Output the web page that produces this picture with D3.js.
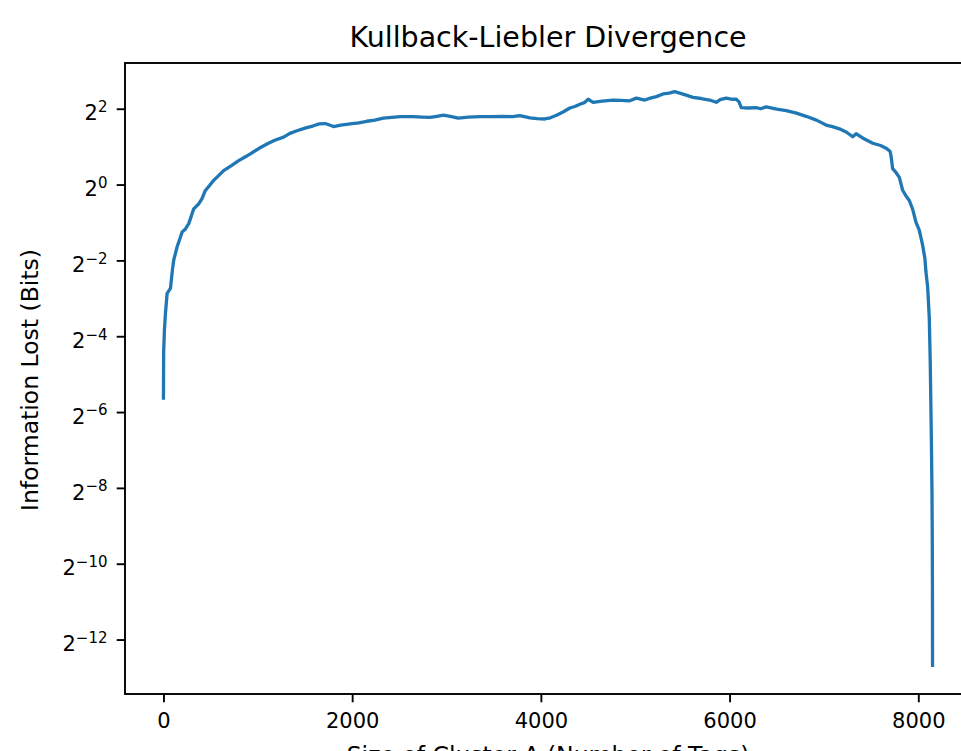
<!DOCTYPE html>
<html>
<head>
<meta charset="utf-8">
<script src="https://cdn.jsdelivr.net/npm/d3@7"></script>
<style>
  body { margin: 0; background: #fff; overflow: hidden; }
  text { font-family: "DejaVu Sans", sans-serif; fill: #000; }
</style>
</head>
<body>
<div id="vis"></div>
<script>
// Tamanho do cluster A (eixo x)
const clusterSize = [
  0, 2, 10, 21, 39, 74, 95, 109, 145, 198, 230, 268, 321, 370, 409, 444, 490, 532, 590, 638,
  720, 797, 860, 921, 1010, 1097, 1180, 1273, 1340, 1415, 1500, 1590, 1650, 1714, 1760, 1802, 1880, 1979, 2070, 2155,
  2240, 2331, 2420, 2508, 2649, 2740, 2825, 2900, 2966, 3040, 3125, 3230, 3354, 3480, 3601, 3700, 3778, 3884, 3960, 4042,
  4100, 4166, 4240, 4307, 4360, 4413, 4460, 4501, 4554, 4650, 4765, 4850, 4942, 5012, 5101, 5160, 5224, 5295, 5360, 5418,
  5471, 5540, 5612, 5700, 5788, 5859, 5900, 5965, 6030, 6071, 6100, 6124, 6200, 6282, 6330, 6388, 6500, 6600, 6700, 6811,
  6920, 7023, 7090, 7164, 7240, 7305, 7341, 7430, 7517, 7600, 7658, 7700, 7711, 7728, 7760, 7799, 7834, 7870, 7905, 7940,
  7975, 8010, 8046, 8070, 8081, 8099, 8116, 8126, 8134, 8140, 8145, 8148, 8150, 8151
];

// Informação perdida em bits (KL)
const infoLost = [
  0.0202, 0.0458, 0.0694, 0.0947, 0.1368, 0.1497, 0.2102, 0.2517, 0.3209, 0.4204, 0.4414, 0.4897, 0.6417, 0.6974, 0.7738, 0.8981, 0.9862, 1.0792, 1.1892, 1.2924,
  1.4142, 1.5476, 1.6472, 1.7532, 1.9319, 2.0994, 2.2501, 2.3784, 2.5491, 2.6759, 2.8089, 2.9282, 3.0314, 3.0525, 2.9690, 2.8879, 2.9690, 3.0314, 3.0951, 3.1821,
  3.2490, 3.3636, 3.4105, 3.4582, 3.4582, 3.4343, 3.4105, 3.4822, 3.5550, 3.4822, 3.3636, 3.4343, 3.4582, 3.4582, 3.4822, 3.4582, 3.5308, 3.3870, 3.3404, 3.3173,
  3.3870, 3.5550, 3.7842, 4.0558, 4.1699, 4.3469, 4.4691, 4.7568, 4.5002, 4.5948, 4.6913, 4.6589, 4.6268, 4.8568, 4.6913, 4.8568, 4.9933, 5.2416, 5.3147, 5.4642,
  5.3147, 5.1337, 4.9246, 4.8233, 4.6913, 4.5002, 4.7240, 4.8568, 4.7568, 4.7568, 4.5315, 4.0840, 4.0558, 4.0840, 4.0000, 4.1411, 3.9724, 3.8637, 3.7064, 3.4822,
  3.2490, 2.9690, 2.8879, 2.7702, 2.6027, 2.3950, 2.5316, 2.2974, 2.1287, 2.0420, 1.9453, 1.8404, 1.6935, 1.3379, 1.2570, 1.1408, 0.9013, 0.8123, 0.7474, 0.6373,
  0.5035, 0.4353, 0.3299, 0.2588, 0.2031, 0.1539, 0.0890, 0.0412, 0.0163, 0.0078, 0.00357, 0.001586, 0.000581, 0.0001524
];

const xTicks = [0, 2000, 4000, 6000, 8000];
const yTickExps = [2, 0, -2, -4, -6, -8, -10, -12];

const titleText = "Kullback-Liebler Divergence";
const xLabelText = "Size of Cluster A (Number of Tags)";
const yLabelText = "Information Lost (Bits)";

// Área dos eixos (a borda direita fica fora da janela)
const W = 961, H = 751;
const plot = { left: 125, right: 971, top: 63, bottom: 694 };

const dataset = clusterSize.map((c, i) => ({ x: c, y: infoLost[i] }));

const svg = d3.select("#vis").append("svg")
  .attr("width", W)
  .attr("height", H);

// margens de 5% como no matplotlib
const xExt = d3.extent(clusterSize);
const xPad = (xExt[1] - xExt[0]) * 0.05;
const x = d3.scaleLinear()
  .domain([xExt[0] - xPad, xExt[1] + xPad])
  .range([plot.left, plot.right]);

const lExt = d3.extent(infoLost).map(Math.log2);
const lPad = (lExt[1] - lExt[0]) * 0.05;
const y = d3.scaleLog().base(2)
  .domain([Math.pow(2, lExt[0] - lPad), Math.pow(2, lExt[1] + lPad)])
  .range([plot.bottom, plot.top]);

// linha
svg.append("path")
  .datum(dataset)
  .attr("fill", "none")
  .attr("stroke", "#1f77b4")
  .attr("stroke-width", 3.3)
  .attr("stroke-linejoin", "round")
  .attr("stroke-linecap", "square")
  .attr("d", d3.line().x(d => x(d.x)).y(d => y(d.y)));

// eixo x
const xAxis = svg.append("g")
  .attr("transform", `translate(0, ${plot.bottom})`)
  .call(d3.axisBottom(x).tickValues(xTicks).tickSize(8.3).tickPadding(10).tickFormat(d3.format("d")));
xAxis.select(".domain").remove();
xAxis.selectAll(".tick line").attr("stroke", "#000").attr("stroke-width", 1.9);
xAxis.selectAll(".tick text")
  .attr("font-size", 21)
  .attr("font-family", "DejaVu Sans")
  .attr("fill", "#000")
  .attr("dy", null)
  .attr("y", 34);

// eixo y (log base 2)
const yAxis = svg.append("g")
  .attr("transform", `translate(${plot.left}, 0)`)
  .call(d3.axisLeft(y).tickValues(yTickExps.map(e => Math.pow(2, e))).tickSize(8.3).tickFormat(""));
yAxis.select(".domain").remove();
yAxis.selectAll(".tick line").attr("stroke", "#000").attr("stroke-width", 1.9);

const yLab = svg.append("g").selectAll("text")
  .data(yTickExps)
  .join("text")
  .attr("x", plot.left - 17.5)
  .attr("y", e => y(Math.pow(2, e)) + 11.7)
  .attr("text-anchor", "end")
  .attr("font-size", 21);
yLab.append("tspan").text("2");
yLab.append("tspan")
  .attr("font-size", 15)
  .attr("dy", -8.4)
  .text(e => (e < 0 ? "\u2212" : "") + Math.abs(e));

// bordas
svg.append("rect")
  .attr("x", plot.left)
  .attr("y", plot.top)
  .attr("width", plot.right - plot.left)
  .attr("height", plot.bottom - plot.top)
  .attr("fill", "none")
  .attr("stroke", "#000")
  .attr("stroke-width", 1.9);

// textos
svg.append("text")
  .attr("x", (plot.left + plot.right) / 2)
  .attr("y", 47)
  .attr("text-anchor", "middle")
  .attr("font-size", 28.5)
  .text(titleText);

svg.append("text")
  .attr("x", (plot.left + plot.right) / 2)
  .attr("y", 763)
  .attr("text-anchor", "middle")
  .attr("font-size", 23.5)
  .text(xLabelText);

svg.append("text")
  .attr("transform", `translate(37.5, 380) rotate(-90)`)
  .attr("text-anchor", "middle")
  .attr("font-size", 23.5)
  .text(yLabelText);
</script>
</body>
</html>
